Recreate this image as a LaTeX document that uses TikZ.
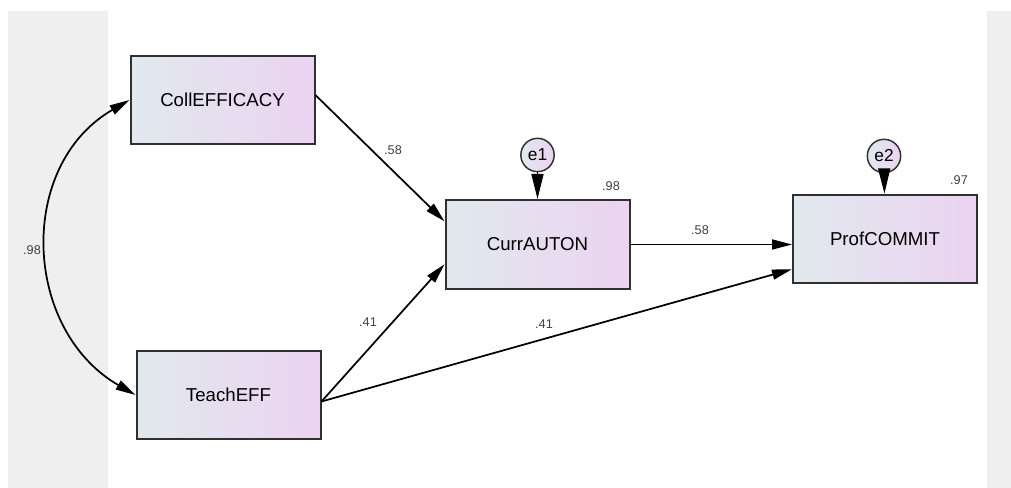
\documentclass[tikz,border=0pt]{standalone}
\usepackage{fontspec}
\setmainfont{Liberation Sans}
\usetikzlibrary{arrows.meta}

\definecolor{boxleft}{HTML}{E1E9EE}
\definecolor{boxright}{HTML}{EBD3F1}
\definecolor{panelgray}{HTML}{EFEFEF}
\definecolor{edgegray}{HTML}{303030}

\tikzset{
  obsvar/.style={rectangle, draw=edgegray, line width=1.5pt,
    left color=boxleft, right color=boxright,
    minimum width=138pt, minimum height=66.5pt, inner sep=0pt,
    font=\fontsize{14}{16}\selectfont},
  errvar/.style={circle, draw=edgegray, line width=1.1pt,
    left color=boxleft, right color=boxright,
    minimum size=25pt, inner sep=0pt,
    font=\fontsize{13}{15}\selectfont},
  regpath/.style={-{Triangle[length=15pt,width=7.5pt]}, line width=1.3pt},
  covpath/.style={{Triangle[length=15pt,width=7.5pt]}-{Triangle[length=15pt,width=7.5pt]}, line width=1.3pt},
  errpath/.style={-{Triangle[length=19pt,width=9pt]}, line width=1.3pt},
  coef/.style={inner sep=0pt, text=black!75, font=\fontsize{9.5}{11}\selectfont}
}

\begin{document}
\begin{tikzpicture}[x=0.75pt,y=0.75pt]
\useasboundingbox (0,0) rectangle (1011,488);
\fill [white] (0,0) rectangle (1011,488);
\fill [panelgray] (8,0) rectangle (108,477);
\fill [panelgray] (987,0) rectangle (1011,477);

% observed variables
\node (coll) [obsvar] at (222.5,388) {CollEFFICACY};
\node (teach) [obsvar] at (228.5,93) {TeachEFF};
\node (curr) [obsvar] at (537.5,243.5) {CurrAUTON};
\node (prof) [obsvar] at (885,249) {ProfCOMMIT};

% error terms
\node (e1) [errvar] at (537.5,333) {e1};
\node (e2) [errvar] at (884,332) {e2};

% paths
\draw [covpath] (coll.west) to[out=210,in=150,looseness=1.13] (teach.west);
\draw [regpath] (coll.3) -- (curr.166);
\draw [regpath] (teach.-4) -- (curr.192);
\draw [regpath] (teach.-4) -- (prof.198);
\draw [regpath] (curr.east) -- (curr.east -| prof.west);
\draw [errpath] (e1) -- (curr);
\draw [errpath] (e2) -- (prof);

% estimates
\node (cov) [coef] at (32,238) {.98};
\node (collcurr) [coef] at (393,338) {.58};
\node (teachcurr) [coef] at (368,166) {.41};
\node (teachprof) [coef] at (544,164) {.41};
\node (currprof) [coef] at (700,258) {.58};
\node (rcurr) [coef] at (611,302) {.98};
\node (rprof) [coef] at (959,308) {.97};
\end{tikzpicture}
\end{document}
